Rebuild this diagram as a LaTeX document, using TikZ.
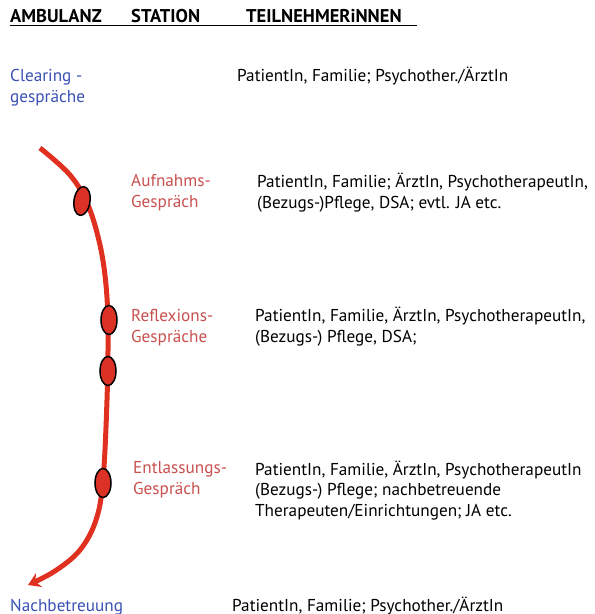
\documentclass[tikz,border=0pt]{standalone}
\usepackage{fontspec}
\setmainfont{PT Sans}
\usetikzlibrary{arrows.meta,shapes.geometric}
\definecolor{ambblue}{RGB}{58,80,180}
\definecolor{statred}{RGB}{200,80,78}
\definecolor{flowred}{RGB}{224,48,32}
\definecolor{dotred}{RGB}{220,50,38}
\tikzset{
  txt/.style={anchor=base west, inner sep=0pt, align=left, font=\fontsize{17.2}{20.5}\selectfont},
  hdr/.style={anchor=base west, inner sep=0pt, font=\fontsize{18.5}{20}\selectfont\bfseries},
  amb/.style={txt, text=ambblue},
  stat/.style={txt, text=statred},
  stop/.style={draw=black, line width=1.5pt, fill=dotred, ellipse, minimum width=16pt, minimum height=29pt, inner sep=0pt}
}
\begin{document}
\begin{tikzpicture}[x=1pt,y=-1pt]
\useasboundingbox (0,0) rectangle (595,614);
% header
\node[hdr] (h1) at (10,22) {AMBULANZ};
\node[hdr] (h2) at (131,22) {STATION};
\node[hdr] (h3) at (246,22) {TEILNEHMERiNNEN};
\draw[line width=1.8pt] (10,25.5) -- (417,25.5);
% labels (base = baseline of last line)
\node[amb] (clr) at (10,102) {Clearing -\\gespräche};
\node[txt] (clrp) at (237,81) {PatientIn, Familie; Psychother./ÄrztIn};
\node[stat] (auf) at (131,207) {Aufnahms-\\Gespräch};
\node[txt] (aufp) at (257,208) {PatientIn, Familie; ÄrztIn, PsychotherapeutIn,\\(Bezugs-)Pflege, DSA; evtl. JA etc.};
\node[stat] (ref) at (131,342) {Reflexions-\\Gespräche};
\node[txt] (refp) at (255,342) {PatientIn, Familie, ÄrztIn, PsychotherapeutIn,\\(Bezugs-) Pflege, DSA;};
\node[stat] (ent) at (133,494) {Entlassungs-\\Gespräch};
\node[txt] (entp) at (255,516) {PatientIn, Familie, ÄrztIn, PsychotherapeutIn\\(Bezugs-) Pflege; nachbetreuende\\Therapeuten/Einrichtungen; JA etc.};
\node[amb] (nach) at (10,611) {Nachbetreuung};
\node[txt] (nachp) at (232,611) {PatientIn, Familie; Psychother./ÄrztIn};
% flow curve
\draw[flowred, line width=5pt, -{Stealth[length=12pt,width=15pt]}]
  plot[smooth, tension=0.6] coordinates {(40,148) (70,175) (88,205) (100,245) (106,285) (108,330) (107,400) (103,480) (96,520) (80,550) (55,571) (28,585)};
% stops
\node[stop, rotate=-8] (s1) at (82,201) {};
\node[stop] (s2) at (109,320) {};
\node[stop] (s3) at (108,371) {};
\node[stop] (s4) at (103,483) {};
\end{tikzpicture}
\end{document}
